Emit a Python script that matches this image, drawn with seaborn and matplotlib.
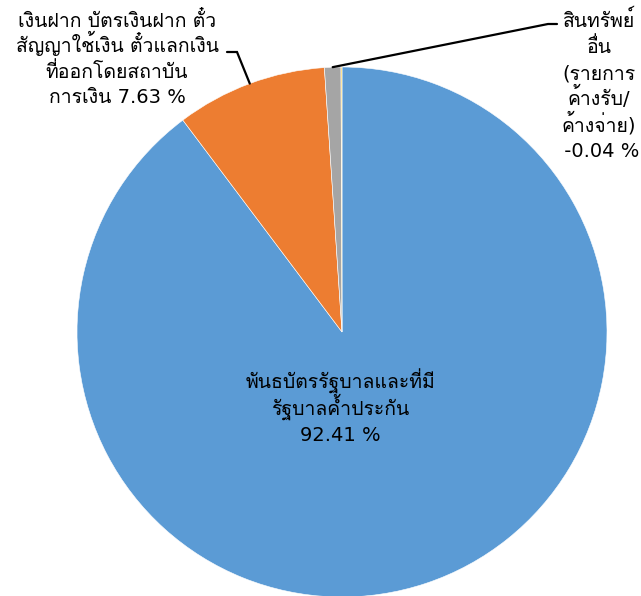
import matplotlib
matplotlib.use("Agg")
import matplotlib.pyplot as plt
import seaborn as sns
import numpy as np

# slice shares (clockwise from 12 o'clock)
shares = [89.8, 9.2, 1.0, 0.06]
labels = [
    "พันธบัตรรัฐบาลและที่มี\nรัฐบาลค้ำประกัน\n92.41 %",
    "เงินฝาก บัตรเงินฝาก ตั๋ว\nสัญญาใช้เงิน ตั๋วแลกเงิน\nที่ออกโดยสถาบัน\nการเงิน 7.63 %",
    "สินทรัพย์\nอื่น\n(รายการ\nค้างรับ/\nค้างจ่าย)\n -0.04 %",
]
colors = ["#5B9BD5", "#ED7D31", "#A5A5A5", "#FFC000"]

sns.set_theme(style="white")
plt.rcParams["font.family"] = ["DejaVu Sans", "Loma"]

W, H = 641, 596
fig = plt.figure(figsize=(W / 100, H / 100), dpi=100)
ax = fig.add_axes([0, 0, 1, 1])

cx, cy, r = 342, H - 332, 265
wedges, _ = ax.pie(shares, colors=sns.color_palette(colors), startangle=90,
                   counterclock=False, center=(cx, cy), radius=r,
                   wedgeprops=dict(edgecolor="white", linewidth=0.4),
                   frame=True)
ax.set_xlim(0, W)
ax.set_ylim(0, H)
ax.set_aspect("equal")
ax.axis("off")


def put_label(x, y0, text, pitch=25.8):
    # one text per line so Thai marks don't make the spacing uneven
    for i, line in enumerate(text.split("\n")):
        ax.text(x, H - (y0 + i * pitch), line, fontsize=14, color="black",
                ha="center", va="baseline")


put_label(340, 389, labels[0])
put_label(117, 27, labels[1], pitch=25.4)
put_label(599, 27, labels[2], pitch=26)


def mid_point(w):
    a = np.deg2rad((w.theta1 + w.theta2) / 2)
    return cx + r * np.cos(a), cy + r * np.sin(a)


# leader lines
ox, oy = mid_point(wedges[1])
ax.plot([227, 237, ox], [H - 52, H - 52, oy], color="black", lw=1.6,
        solid_joinstyle="miter")
gx, gy = mid_point(wedges[2])
ax.plot([gx, 548, 557], [gy, H - 24, H - 24], color="black", lw=1.6)

fig.savefig("out.png", dpi=100)
